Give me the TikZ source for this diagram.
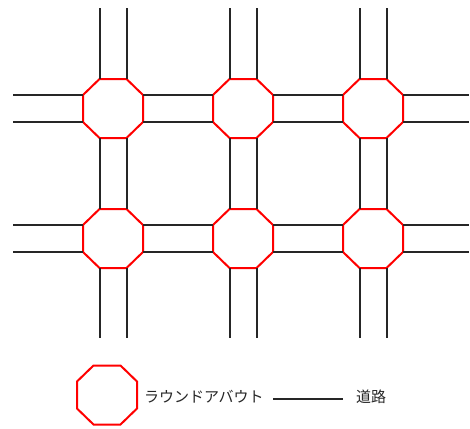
\documentclass[tikz,border=0pt]{standalone}
\usepackage{fontspec}
\newfontfamily\jpfont{Noto Sans CJK JP}
\usetikzlibrary{calc}
\tikzset{
  road/.style={draw=black!85, line width=2pt},
  ring/.style={draw=red, line width=2pt, line join=miter},
  lbl/.style={font=\jpfont\fontsize{15}{17}\selectfont, text=black!85, inner sep=0pt, anchor=west}
}
\newcommand\octdef[2]{%
  \coordinate (#1) at (#2);
  \coordinate (#1-t1) at ($(#1)+(-13.5,-29.5)$);
  \coordinate (#1-t2) at ($(#1)+(13.5,-29.5)$);
  \coordinate (#1-r1) at ($(#1)+(30,-13.5)$);
  \coordinate (#1-r2) at ($(#1)+(30,13.5)$);
  \coordinate (#1-b2) at ($(#1)+(13.5,29.5)$);
  \coordinate (#1-b1) at ($(#1)+(-13.5,29.5)$);
  \coordinate (#1-l2) at ($(#1)+(-30,13.5)$);
  \coordinate (#1-l1) at ($(#1)+(-30,-13.5)$);
  \draw[ring] (#1-t1) -- (#1-t2) -- (#1-r1) -- (#1-r2) -- (#1-b2) -- (#1-b1) -- (#1-l2) -- (#1-l1) -- cycle;
}
\begin{document}
\begin{tikzpicture}[x=1pt,y=-1pt]
\useasboundingbox (0,0) rectangle (470,428);
\coordinate (top) at (0,8);
\coordinate (bot) at (0,338);
\coordinate (lft) at (13,0);
\coordinate (rgt) at (469,0);
% roundabouts
\foreach \c/\x in {1/113,2/243,3/373}{
  \foreach \r/\y in {1/108.5,2/238.5}{
    \octdef{c\r\c}{\x,\y}
  }
}
% vertical roads
\foreach \c in {1,2,3}{
  \draw[road] (c1\c-t1) -- (c1\c-t1 |- top);
  \draw[road] (c1\c-t2) -- (c1\c-t2 |- top);
  \draw[road] (c1\c-b1) -- (c2\c-t1);
  \draw[road] (c1\c-b2) -- (c2\c-t2);
  \draw[road] (c2\c-b1) -- (c2\c-b1 |- bot);
  \draw[road] (c2\c-b2) -- (c2\c-b2 |- bot);
}
% horizontal roads
\foreach \r in {1,2}{
  \draw[road] (c\r1-l1) -- (c\r1-l1 -| lft);
  \draw[road] (c\r1-l2) -- (c\r1-l2 -| lft);
  \draw[road] (c\r1-r1) -- (c\r2-l1);
  \draw[road] (c\r1-r2) -- (c\r2-l2);
  \draw[road] (c\r2-r1) -- (c\r3-l1);
  \draw[road] (c\r2-r2) -- (c\r3-l2);
  \draw[road] (c\r3-r1) -- (c\r3-r1 -| rgt);
  \draw[road] (c\r3-r2) -- (c\r3-r2 -| rgt);
}
% legend
\octdef{lg}{107,395}
\node[lbl] (lgtext) at (144,397) {ラウンドアバウト};
\coordinate (la) at (273,399);
\coordinate (lb) at (343,399);
\draw[road] (la) -- (lb);
\node[lbl] (rdtext) at (356,397) {道路};
\end{tikzpicture}
\end{document}
